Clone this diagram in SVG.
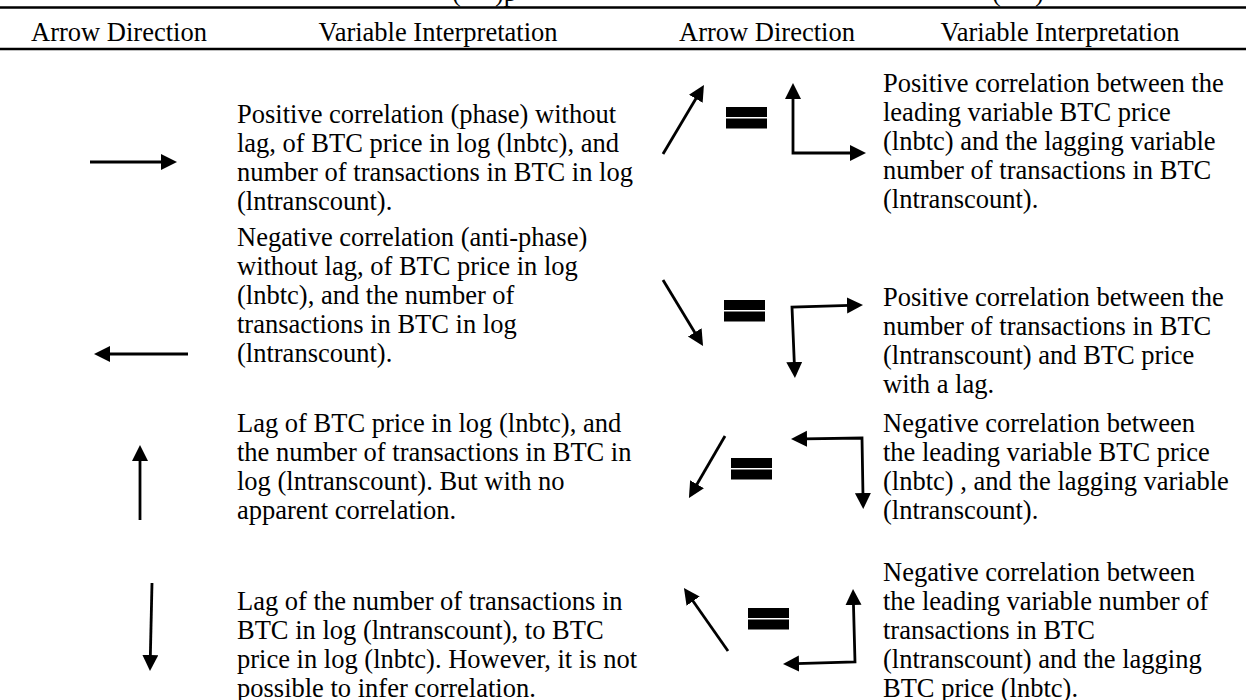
<svg xmlns="http://www.w3.org/2000/svg" width="1246" height="700" viewBox="0 0 1246 700">
<style>
text{font-family:"Liberation Serif","Times New Roman",serif;font-size:26.5px;fill:#000}
.h{text-anchor:middle}
.rule{stroke:#000;stroke-width:2.4}
.ar{stroke:#000;stroke-width:2.8;fill:none;marker-end:url(#ah)}
.l{stroke:#000;stroke-width:2.8;fill:none;marker-start:url(#ah2);marker-end:url(#ah2);stroke-linejoin:miter}
.eq{fill:#000}
</style>
<defs>
<marker id="ah" markerUnits="userSpaceOnUse" markerWidth="17" markerHeight="17" refX="3" refY="8" orient="auto"><path d="M0,0 L16,8 L0,16 z" fill="#000"/></marker>
<marker id="ah2" markerUnits="userSpaceOnUse" markerWidth="17" markerHeight="17" refX="3" refY="8" orient="auto-start-reverse"><path d="M0,0 L16,8 L0,16 z" fill="#000"/></marker>
</defs>
<rect width="1246" height="700" fill="#fff"/>
<g id="caption-fragment">
<text x="452" y="1">(</text><text x="495" y="1">)p</text>
<text x="992" y="1">(</text><text x="1035" y="1">)</text>
</g>
<g id="header">
<line class="rule" x1="0" y1="7.5" x2="1246" y2="7.5"/>
<text class="h" x="119" y="41">Arrow Direction</text>
<text class="h" x="438" y="41">Variable Interpretation</text>
<text class="h" x="767" y="41">Arrow Direction</text>
<text class="h" x="1060" y="41">Variable Interpretation</text>
<line class="rule" x1="0" y1="49" x2="1246" y2="49"/>
</g>
<g id="text-r1c2"><text x="237" y="123">Positive correlation (phase) without</text><text x="237" y="152">lag, of BTC price in log (lnbtc), and</text><text x="237" y="181">number of transactions in BTC in log</text><text x="237" y="210">(lntranscount).</text></g>
<g id="text-r1c4"><text x="883" y="92">Positive correlation between the</text><text x="883" y="121">leading variable BTC price</text><text x="883" y="150">(lnbtc) and the lagging variable</text><text x="883" y="179">number of transactions in BTC</text><text x="883" y="208">(lntranscount).</text></g>
<g id="text-r2c2"><text x="237" y="246">Negative correlation (anti-phase)</text><text x="237" y="275">without lag, of BTC price in log</text><text x="237" y="304">(lnbtc), and the number of</text><text x="237" y="333">transactions in BTC in log</text><text x="237" y="362">(lntranscount).</text></g>
<g id="text-r2c4"><text x="883" y="306">Positive correlation between the</text><text x="883" y="335">number of transactions in BTC</text><text x="883" y="364">(lntranscount) and BTC price</text><text x="883" y="393">with a lag.</text></g>
<g id="text-r3c2"><text x="237" y="432">Lag of BTC price in log (lnbtc), and</text><text x="237" y="461">the number of transactions in BTC in</text><text x="237" y="490">log (lntranscount). But with no</text><text x="237" y="519">apparent correlation.</text></g>
<g id="text-r3c4"><text x="883" y="432">Negative correlation between</text><text x="883" y="461">the leading variable BTC price</text><text x="883" y="490">(lnbtc) , and the lagging variable</text><text x="883" y="519">(lntranscount).</text></g>
<g id="text-r4c2"><text x="237" y="610">Lag of the number of transactions in</text><text x="237" y="639">BTC in log (lntranscount), to BTC</text><text x="237" y="668">price in log (lnbtc). However, it is not</text><text x="237" y="697">possible to infer correlation.</text></g>
<g id="text-r4c4"><text x="883" y="581">Negative correlation between</text><text x="883" y="610">the leading variable number of</text><text x="883" y="639">transactions in BTC</text><text x="883" y="668">(lntranscount) and the lagging</text><text x="883" y="697">BTC price (lnbtc).</text></g>
<g id="equals">
<rect class="eq" x="726" y="107" width="41" height="10"/><rect class="eq" x="726" y="118.5" width="41" height="10"/>
<rect class="eq" x="724" y="300" width="41" height="10"/><rect class="eq" x="724" y="311.5" width="41" height="10"/>
<rect class="eq" x="731" y="458" width="41" height="10"/><rect class="eq" x="731" y="469.5" width="41" height="10"/>
<rect class="eq" x="748" y="608" width="41" height="10"/><rect class="eq" x="748" y="619.5" width="41" height="10"/>
</g>
<g id="connectors">
<line class="ar" x1="90" y1="162" x2="164" y2="162"/>
<line class="ar" x1="188" y1="354" x2="107" y2="354"/>
<line class="ar" x1="140" y1="520" x2="140" y2="458"/>
<line class="ar" x1="152" y1="583" x2="150.3" y2="658"/>
<line class="ar" x1="663" y1="154" x2="697.3" y2="96.2"/>
<path class="l" d="M793,96 L793,153 L853,153"/>
<line class="ar" x1="663" y1="280" x2="696.3" y2="334.9"/>
<path class="l" d="M850,305.4 L792,307 L794.4,365"/>
<line class="ar" x1="725" y1="436" x2="695.5" y2="486.8"/>
<path class="l" d="M804,438.8 L862,438 L863,496"/>
<line class="ar" x1="728" y1="651" x2="691.4" y2="598.7"/>
<path class="l" d="M853.4,602 L855,662 L796,663.6"/>
</g>
</svg>
